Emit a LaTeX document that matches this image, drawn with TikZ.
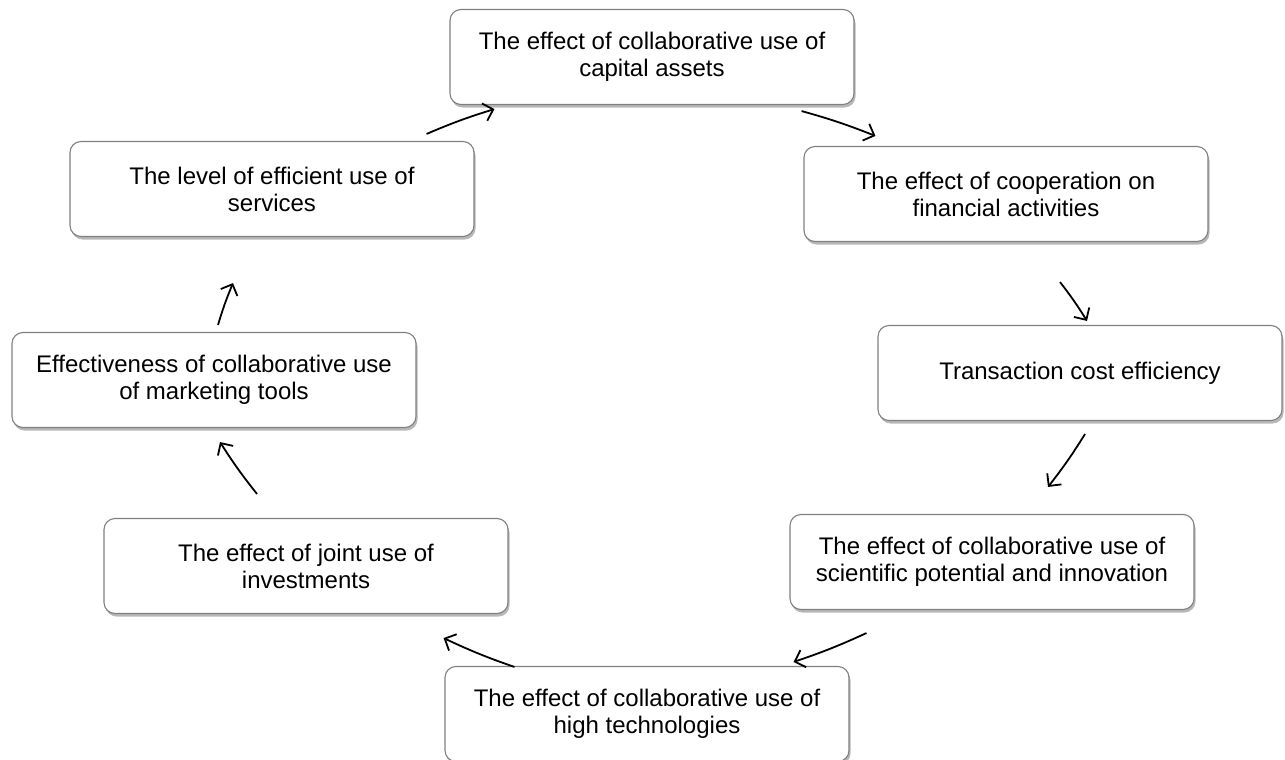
\documentclass[tikz,border=0pt]{standalone}
\usepackage{fontspec}
\setmainfont{Liberation Sans}
\usetikzlibrary{arrows.meta,shadows,bending}

\begin{document}
\begin{tikzpicture}[x=1pt,y=-1pt,
    effbox/.style={draw=black!50,line width=1.1pt,rounded corners=11pt,fill=white,
      minimum width=404pt,minimum height=95pt,align=center,text=black,
      font=\fontsize{24}{27}\selectfont,
      drop shadow={shadow xshift=1.5pt,shadow yshift=-3pt,opacity=.4,fill=black!70}},
    cyc/.style={line width=1.8pt,-{Straight Barb[length=9pt,width=18pt,line width=1.8pt]}}]

  \useasboundingbox (0,0) rectangle (1285,760);

    \node[effbox] (e1) at (652,57) {The effect of collaborative use of\\capital assets};

    \node[effbox] (e2) at (1006,194) {The effect of cooperation on\\financial activities};

    \node[effbox] (e3) at (1080,373) {Transaction cost efficiency};

    \node[effbox] (e4) at (992,562) {The effect of collaborative use of\\scientific potential and innovation};

    \node[effbox] (e5) at (647,714) {The effect of collaborative use of\\high technologies};

    \node[effbox] (e6) at (306,566) {The effect of joint use of\\investments};

    \node[effbox] (e7) at (214,380) {Effectiveness of collaborative use\\of marketing tools};

    \node[effbox] (e8) at (272,189) {The level of efficient use of\\services};


    %%%%%%%%%%CYCLE%%%%%%%%%%%%%%%%

    \draw[cyc] ([xshift=-48pt,yshift=7pt]e8.north east) to[bend left=3] ([xshift=45pt,yshift=-4pt]e1.south west);
    \draw[cyc] ([xshift=-53pt,yshift=-6pt]e1.south east) to[bend left=3] ([xshift=72pt,yshift=10pt]e2.north west);
    \draw[cyc] ([xshift=54pt,yshift=-40pt]e2.south) to[bend left=3] ([xshift=7pt,yshift=4pt]e3.north);
    \draw[cyc] ([xshift=5pt,yshift=-13pt]e3.south) to[bend left=3] ([xshift=56pt,yshift=27pt]e4.north);
    \draw[cyc] ([xshift=77pt,yshift=-23pt]e4.south west) to[bend left=3] ([xshift=-56pt,yshift=4pt]e5.north east);
    \draw[cyc] ([xshift=70pt,yshift=-1pt]e5.north west) to[bend left=3] ([xshift=-65pt,yshift=-24pt]e6.south east);
    \draw[cyc] ([xshift=-49pt,yshift=24pt]e6.north) to[bend left=3] ([xshift=6pt,yshift=-14pt]e7.south);
    \draw[cyc] ([xshift=4pt,yshift=7pt]e7.north) to[bend left=3] ([xshift=-39pt,yshift=-46pt]e8.south);

%    \draw[->,dashed] (e1) to (e5);
  \end{tikzpicture}
\end{document}
